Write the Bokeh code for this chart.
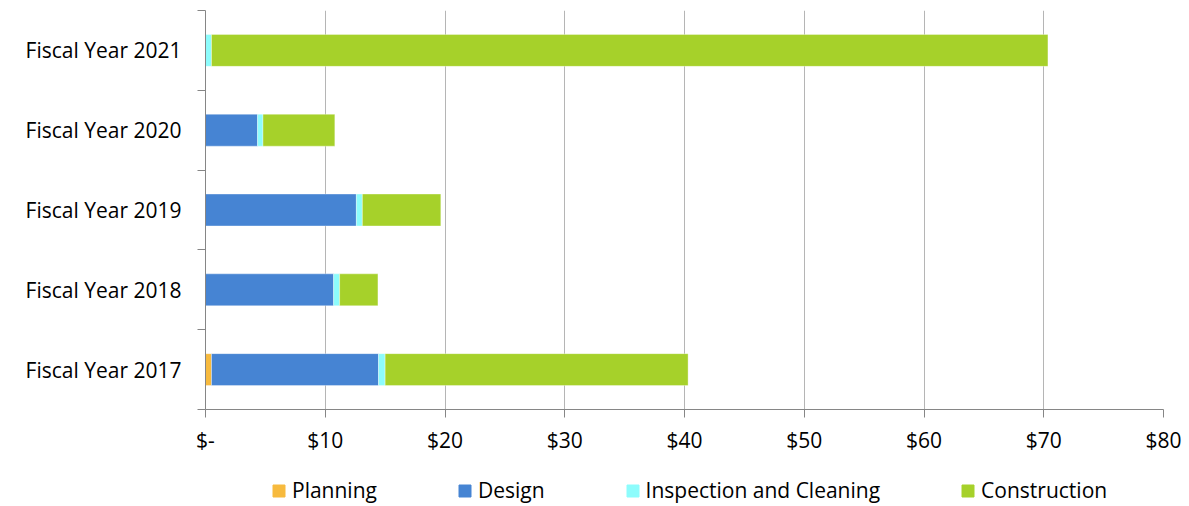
from bokeh.plotting import figure
from bokeh.layouts import column
from bokeh.models import (ColumnDataSource, Legend, LegendItem, FixedTicker,
                          Range1d)
from bokeh.embed import file_html
from bokeh.resources import INLINE

# Fiscal years, bottom to top
years = ["Fiscal Year 2017", "Fiscal Year 2018", "Fiscal Year 2019",
         "Fiscal Year 2020", "Fiscal Year 2021"]

# Spending by phase ($ millions)
planning = [0.5, 0.0, 0.0, 0.0, 0.0]
design = [13.95, 10.7, 12.6, 4.35, 0.0]
inspection = [0.55, 0.5, 0.5, 0.45, 0.5]
construction = [25.3, 3.2, 6.55, 6.0, 69.85]

series_names = ["Planning", "Design", "Inspection and Cleaning", "Construction"]
series_colors = ["#F7BA3E", "#4684D3", "#8DFCFC", "#A6D12A"]

x_ticks = [0, 10, 20, 30, 40, 50, 60, 70, 80]
x_tick_labels = ["$-", "$10", "$20", "$30", "$40", "$50", "$60", "$70", "$80"]

FONT = "Open Sans"
FONT_SIZE = "21px"

y_pos = [i + 0.5 for i in range(len(years))]
data = {"y": y_pos}
for name, vals in zip(series_names, [planning, design, inspection, construction]):
    data[name] = vals
source = ColumnDataSource(data)

# --- main chart -------------------------------------------------------------
chart = figure(width=1189, height=460, output_backend="svg", toolbar_location=None,
               x_range=Range1d(0, 80), y_range=Range1d(0, len(years)),
               min_border_left=205, min_border_right=26, min_border_top=10,
               min_border_bottom=51)
chart.outline_line_color = None

chart.hbar_stack(series_names, y="y", height=0.4, color=series_colors,
                 source=source, line_color="white", line_alpha=0.35, line_width=1)

# x axis: dollar ticks
chart.xaxis.ticker = FixedTicker(ticks=x_ticks)
chart.xaxis.major_label_overrides = {t: lab for t, lab in zip(x_ticks, x_tick_labels)}
chart.xaxis.axis_line_color = "#868686"
chart.xaxis.major_tick_line_color = "#868686"
chart.xaxis.major_tick_out = 8
chart.xaxis.major_tick_in = 0
chart.xaxis.minor_tick_line_color = None
chart.xaxis.major_label_text_font = FONT
chart.xaxis.major_label_text_font_size = FONT_SIZE
chart.xaxis.major_label_text_color = "#000000"
chart.xaxis.major_label_standoff = 8

# y axis: labels at bar centres, ticks at category boundaries
chart.yaxis.ticker = FixedTicker(ticks=y_pos, minor_ticks=list(range(len(years) + 1)))
chart.yaxis.major_label_overrides = {y: lab for y, lab in zip(y_pos, years)}
chart.yaxis.axis_line_color = "#868686"
chart.yaxis.major_tick_line_color = None
chart.yaxis.minor_tick_line_color = "#868686"
chart.yaxis.minor_tick_out = 8
chart.yaxis.minor_tick_in = 0
chart.yaxis.major_label_text_font = FONT
chart.yaxis.major_label_text_font_size = FONT_SIZE
chart.yaxis.major_label_text_color = "#000000"
chart.yaxis.major_label_standoff = 16

chart.xgrid.grid_line_color = "#B5B5B5"
chart.xgrid.ticker = FixedTicker(ticks=x_ticks)
chart.ygrid.grid_line_color = None

# --- legend strip -------------------------------------------------------------
key = figure(width=1189, height=46, output_backend="svg", toolbar_location=None,
             x_range=Range1d(0, 1), y_range=Range1d(100, 101),
             x_axis_location=None, y_axis_location=None,
             min_border_left=0, min_border_right=0, min_border_top=0,
             min_border_bottom=0)
key.outline_line_color = None
key.xgrid.grid_line_color = None
key.ygrid.grid_line_color = None

key_renderers = key.hbar_stack(series_names, y="y", height=0.4, color=series_colors,
                               source=source)

legend = Legend(
    items=[LegendItem(label=n, renderers=[r]) for n, r in zip(series_names, key_renderers)],
    orientation="horizontal", location=(66, 2),
    label_text_font=FONT, label_text_font_size=FONT_SIZE, label_text_color="#000000",
    glyph_width=15, glyph_height=15, label_standoff=6, spacing=80,
    border_line_color=None, background_fill_alpha=0, padding=0, margin=0,
)
key.add_layout(legend, "center")

page = column(chart, key, spacing=0)

open("out.html", "w").write(file_html(page, INLINE))
